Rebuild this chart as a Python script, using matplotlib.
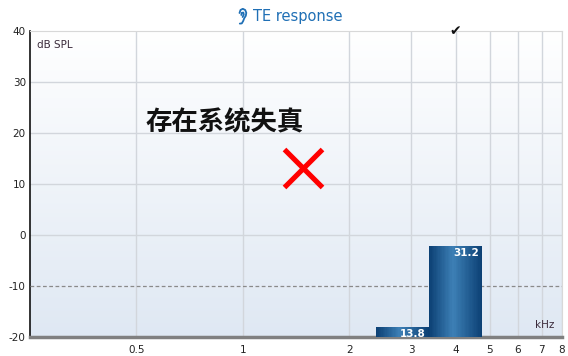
import numpy as np
import matplotlib
matplotlib.use("Agg")
import matplotlib.pyplot as plt
from matplotlib.colors import LinearSegmentedColormap

plt.rcParams['font.family'] = ['DejaVu Sans']
plt.rcParams['axes.unicode_minus'] = False

# half-octave TE bands (kHz), response level (dB SPL) and SNR label
band_centers = [2.83, 4.0]
band_levels = [-18.0, -2.2]
band_snr = [13.8, 31.2]
passed_bands = [4.0]

x_ticks = [0.5, 1, 2, 3, 4, 5, 6, 7, 8]
x_tick_labels = ["0.5", "1", "2", "3", "4", "5", "6", "7", "8"]
y_ticks = [-20, -10, 0, 10, 20, 30, 40]

noise_floor = -10
warning_text = "存在系统失真"
warning_pos = (0.53, 22.0)
fail_mark = (1.48, 13.1)

W, H = 568, 356
fig = plt.figure(figsize=(W / 100, H / 100), dpi=100)
ax = fig.add_axes([30 / W, 19 / H, 532 / W, 306 / H])
ax.set_xscale("log")
ax.set_xlim(0.25, 8)
ax.set_ylim(-20, 40)

# background: white at top fading to pale blue
bg = LinearSegmentedColormap.from_list("bg", ["#dfe8f3", "#ffffff"])
grad = np.linspace(0, 1, 256).reshape(-1, 1)
ax.imshow(grad, cmap=bg, extent=[0, 1, 0, 1], origin="lower", aspect="auto",
          transform=ax.transAxes, zorder=0)
ax.patch.set_visible(False)

for x in x_ticks:
    ax.axvline(x, color="#d2d6dc", lw=1, zorder=1)
for y in [0, 10, 20, 30]:
    ax.axhline(y, color="#d2d6dc", lw=1, zorder=1)
ax.axhline(noise_floor, color="#8a8a8a", lw=0.9, ls=(0, (3, 2)), zorder=3)

# bars with a horizontal shading: dark edges, lighter middle
bar_cmap = LinearSegmentedColormap.from_list(
    "bar", [(0, "#0b3f73"), (0.45, "#3d80b6"), (1, "#0b3f73")])
n_strips = 40
for fc, lvl, snr in zip(band_centers, band_levels, band_snr):
    lo, hi = fc / 2 ** 0.25, fc * 2 ** 0.25
    edges = np.geomspace(lo, hi, n_strips + 1)
    for i in range(n_strips):
        t = (i + 0.5) / n_strips
        ax.fill_between([edges[i], edges[i + 1]], -20, lvl,
                        color=bar_cmap(t), lw=0, zorder=4)
    ax.text(hi / 1.02, lvl - 0.4, f"{snr:.1f}", color="white", fontsize=7.5,
            fontweight="bold", ha="right", va="top", zorder=5)

# pass marks above the plot
for fc in passed_bands:
    ax.text(fc, 40, "\u2714", fontsize=10, ha="center", va="center",
            color="#111111", clip_on=False, zorder=6)

ax.text(*warning_pos, warning_text, fontsize=19, fontweight="bold",
        family=["Noto Sans CJK SC", "DejaVu Sans"], ha="left", va="center",
        color="#111111", zorder=6)
ax.plot(*fail_mark, marker="x", markersize=28, mew=3.7, color="#ff0000",
        zorder=6)

ax.text(0.013, 0.955, "dB SPL", transform=ax.transAxes, fontsize=7.5,
        color="#3b2b3b", ha="left", va="center")
ax.text(0.985, 0.04, "kHz", transform=ax.transAxes, fontsize=7.5,
        color="#3b2b3b", ha="right", va="center")

ax.set_xticks(x_ticks)
ax.set_xticklabels(x_tick_labels)
ax.xaxis.set_minor_locator(matplotlib.ticker.NullLocator())
ax.set_yticks(y_ticks)
ax.tick_params(axis="both", length=0, labelsize=7.5, colors="#222222")
ax.tick_params(axis="x", pad=6)
ax.tick_params(axis="y", pad=3)

ax.spines["left"].set_color("#111111")
ax.spines["left"].set_linewidth(1.2)
ax.spines["bottom"].set_color("#808080")
ax.spines["bottom"].set_linewidth(2.5)
ax.spines["top"].set_color("#d8d8d8")
ax.spines["right"].set_color("#d8d8d8")

# title with a small ear glyph
blue = "#1f6fb5"
fig.text(253 / W, 1 - 16 / H, "TE response", color=blue, fontsize=10.5,
         ha="left", va="center")
ear_outer = np.array([(239.5, 13), (240.5, 10), (242.8, 8.8), (245.2, 10),
                      (246.3, 12.8), (245.8, 15.8), (244.2, 18.3),
                      (243.2, 21), (241.8, 23.4), (239.8, 23.6)])
ear_inner = np.array([(241.3, 15), (241.8, 12.8), (243.4, 12.6),
                      (243.8, 14.6), (242.6, 17)])
for pts in (ear_outer, ear_inner):
    fig.add_artist(plt.Line2D(pts[:, 0] / W, 1 - pts[:, 1] / H, color=blue,
                              lw=1.3, solid_capstyle="round",
                              transform=fig.transFigure))

fig.savefig("out.png", dpi=100)
